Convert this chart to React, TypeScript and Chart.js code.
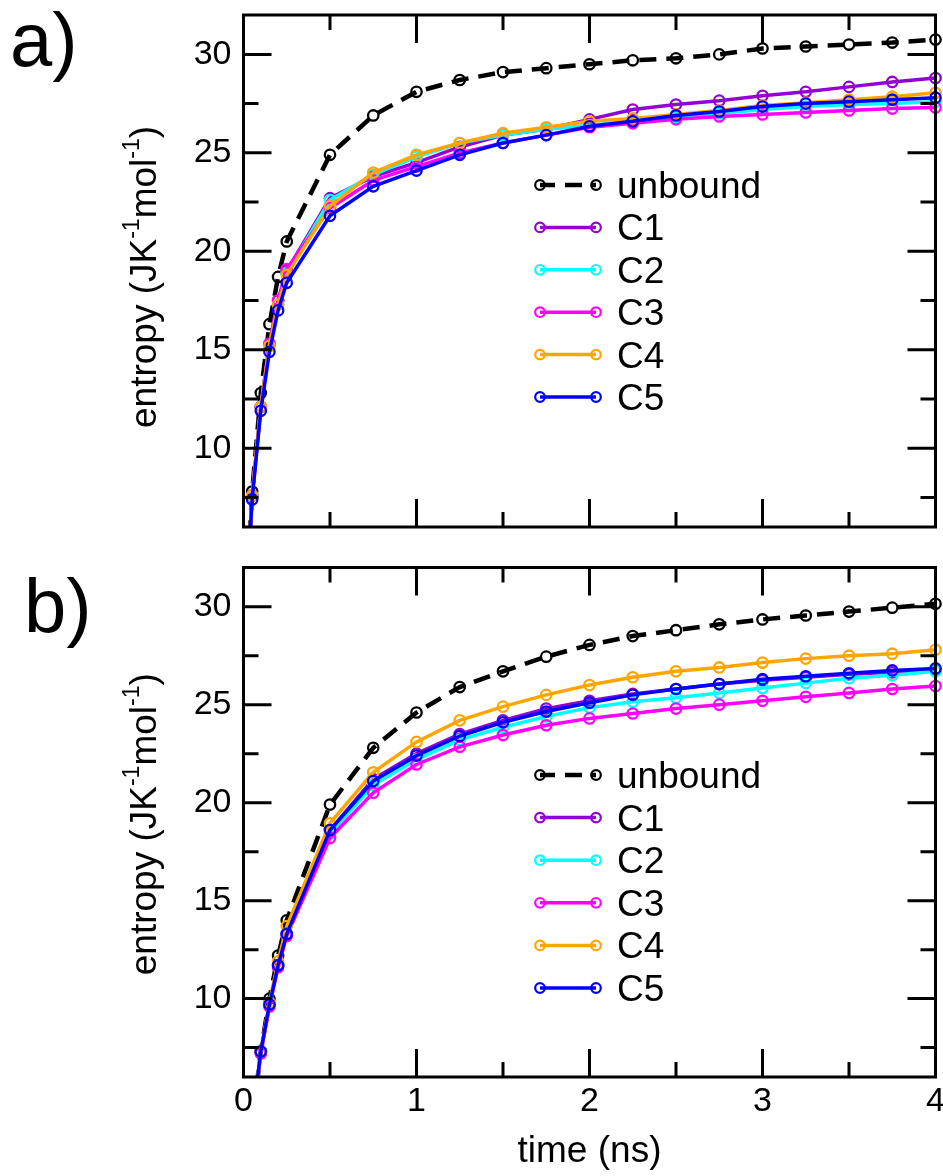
import React, { useEffect, useRef } from "react";
import { Chart, registerables } from "chart.js";

Chart.register(...registerables);

const FONT = "'Liberation Sans', Arial, Helvetica, sans-serif";

// ---- data (panel a) ----
const TIMES_A = [0, 0.05, 0.1, 0.15, 0.2, 0.25, 0.5, 0.75, 1, 1.25, 1.5, 1.75, 2, 2.25, 2.5, 2.75, 3, 3.25, 3.5, 3.75, 4];
const UNBOUND_A = [0, 7.8, 12.8, 16.3, 18.7, 20.5, 24.9, 26.9, 28.1, 28.7, 29.1, 29.3, 29.5, 29.7, 29.8, 30.0, 30.3, 30.4, 30.5, 30.6, 30.75];
const C1_A = [0, 7.6, 12.1, 15.3, 17.5, 19.0, 22.7, 23.8, 24.5, 25.3, 25.9, 26.2, 26.7, 27.2, 27.45, 27.65, 27.9, 28.1, 28.35, 28.6, 28.8];
const C2_A = [0, 7.6, 12.1, 15.2, 17.3, 18.9, 22.6, 23.9, 24.8, 25.5, 25.9, 26.2, 26.4, 26.6, 26.8, 27.0, 27.2, 27.35, 27.45, 27.5, 27.6];
const C3_A = [0, 7.6, 12.1, 15.3, 17.5, 19.1, 22.2, 23.6, 24.3, 25.0, 25.5, 25.9, 26.3, 26.5, 26.7, 26.85, 26.95, 27.05, 27.15, 27.25, 27.3];
const C4_A = [0, 7.6, 12.1, 15.2, 17.3, 18.8, 22.3, 24.0, 24.9, 25.5, 26.0, 26.3, 26.6, 26.75, 26.95, 27.15, 27.4, 27.55, 27.7, 27.85, 28.05];
const C5_A = [0, 7.4, 11.9, 14.9, 17.0, 18.4, 21.8, 23.3, 24.1, 24.9, 25.5, 25.9, 26.35, 26.6, 26.9, 27.1, 27.35, 27.5, 27.6, 27.7, 27.8];

// ---- data (panel b) ----
const TIMES_B = [0, 0.1, 0.15, 0.2, 0.25, 0.5, 0.75, 1, 1.25, 1.5, 1.75, 2, 2.25, 2.5, 2.75, 3, 3.25, 3.5, 3.75, 4];
const UNBOUND_B = [0, 7.3, 10.0, 12.2, 14.0, 19.9, 22.8, 24.6, 25.9, 26.7, 27.45, 28.05, 28.5, 28.8, 29.1, 29.35, 29.55, 29.75, 29.95, 30.15];
const C1_B = [0, 7.3, 9.7, 11.7, 13.3, 18.6, 21.2, 22.5, 23.5, 24.2, 24.8, 25.2, 25.55, 25.8, 26.05, 26.25, 26.4, 26.55, 26.65, 26.75];
const C2_B = [0, 7.3, 9.7, 11.7, 13.3, 18.4, 20.9, 22.2, 23.2, 23.85, 24.4, 24.85, 25.15, 25.35, 25.6, 25.85, 26.1, 26.35, 26.5, 26.7];
const C3_B = [0, 7.2, 9.6, 11.6, 13.2, 18.2, 20.5, 21.95, 22.85, 23.45, 23.95, 24.3, 24.55, 24.8, 25.0, 25.2, 25.4, 25.6, 25.8, 25.95];
const C4_B = [0, 7.3, 9.8, 11.9, 13.7, 18.95, 21.55, 23.1, 24.2, 24.9, 25.5, 26.0, 26.4, 26.7, 26.9, 27.15, 27.35, 27.5, 27.6, 27.8];
const C5_B = [0, 7.3, 9.7, 11.7, 13.3, 18.6, 21.1, 22.4, 23.4, 24.1, 24.65, 25.1, 25.5, 25.8, 26.05, 26.3, 26.45, 26.6, 26.75, 26.85];

const SERIES_NAMES = ["unbound", "C1", "C2", "C3", "C4", "C5"];
const SERIES_COLORS = ["#000000", "#9400d3", "#00ffff", "#ff00ff", "#ffa500", "#0000ff"];
const X_TICKS = [0, 1, 2, 3, 4];
const Y_TICKS = [10, 15, 20, 25, 30];
const X_RANGE = [0, 4];
const Y_RANGE = [6, 32];
const X_TITLE = "time (ns)";
const PANEL_LABELS = ["a)", "b)"];

const PANEL_A = { times: TIMES_A, series: [UNBOUND_A, C1_A, C2_A, C3_A, C4_A, C5_A] };
const PANEL_B = { times: TIMES_B, series: [UNBOUND_B, C1_B, C2_B, C3_B, C4_B, C5_B] };

function drawYTitle(ctx: CanvasRenderingContext2D, cx: number, cy: number, size: number) {
  const parts: [string, boolean][] = [["entropy (JK", false], ["-1", true], ["mol", false], ["-1", true], [")", false]];
  const big = `${size}px ${FONT}`;
  const small = `${Math.round(size * 0.62)}px ${FONT}`;
  ctx.save();
  ctx.translate(cx, cy);
  ctx.rotate(-Math.PI / 2);
  ctx.fillStyle = "#000";
  ctx.textBaseline = "alphabetic";
  ctx.textAlign = "left";
  let total = 0;
  const widths = parts.map(([t, sup]) => {
    ctx.font = sup ? small : big;
    const w = ctx.measureText(t).width;
    total += w;
    return w;
  });
  let x = -total / 2;
  parts.forEach(([t, sup], i) => {
    ctx.font = sup ? small : big;
    ctx.fillText(t, x, sup ? -size * 0.45 : 0);
    x += widths[i];
  });
  ctx.restore();
}

const decorPlugin = {
  id: "decor",
  afterDatasetsDraw(chart: any, _args: any, opts: any) {
    const ctx: CanvasRenderingContext2D = chart.ctx;
    const { left, right, top, bottom } = chart.chartArea;
    const xs = chart.scales.x;
    const ys = chart.scales.y;
    ctx.save();
    ctx.strokeStyle = "#000";
    ctx.lineWidth = 3;
    ctx.setLineDash([]);
    ctx.lineCap = "butt";
    ctx.strokeRect(left, top, right - left, bottom - top);
    const xStep = X_TICKS[1] - X_TICKS[0];
    for (let v = X_RANGE[0]; v <= X_RANGE[1] + 1e-9; v += xStep / 2) {
      const major = X_TICKS.some((t) => Math.abs(t - v) < 1e-9);
      const len = major ? 28 : 15;
      const px = xs.getPixelForValue(v);
      ctx.beginPath();
      ctx.moveTo(px, bottom);
      ctx.lineTo(px, bottom - len);
      ctx.moveTo(px, top);
      ctx.lineTo(px, top + len);
      ctx.stroke();
    }
    const yStep = Y_TICKS[1] - Y_TICKS[0];
    for (let v = Y_TICKS[0] - yStep; v <= Y_RANGE[1] + 1e-9; v += yStep / 2) {
      if (v < Y_RANGE[0]) continue;
      const major = Y_TICKS.some((t) => Math.abs(t - v) < 1e-9);
      const len = major ? 28 : 15;
      const py = ys.getPixelForValue(v);
      ctx.beginPath();
      ctx.moveTo(left, py);
      ctx.lineTo(left + len, py);
      ctx.moveTo(right, py);
      ctx.lineTo(right - len, py);
      ctx.stroke();
    }
    ctx.restore();

    // legend
    ctx.save();
    chart.data.datasets.forEach((ds: any, i: number) => {
      const y = opts.legendY + i * opts.legendStep;
      const x1 = opts.legendX;
      const x2 = opts.legendX + 56;
      ctx.strokeStyle = ds.borderColor;
      ctx.lineWidth = ds.borderWidth;
      ctx.setLineDash(ds.borderDash || []);
      ctx.lineDashOffset = ds.borderDash ? 2 : 0;
      ctx.beginPath();
      ctx.moveTo(x1, y);
      ctx.lineTo(x2, y);
      ctx.stroke();
      ctx.setLineDash([]);
      ctx.lineWidth = 2.2;
      [x1, x2].forEach((cx) => {
        ctx.beginPath();
        ctx.arc(cx, y, 4.8, 0, Math.PI * 2);
        ctx.stroke();
      });
      ctx.fillStyle = "#000";
      ctx.font = `37px ${FONT}`;
      ctx.textAlign = "left";
      ctx.textBaseline = "alphabetic";
      ctx.fillText(ds.label, opts.legendX + 77, y + 13);
    });
    ctx.restore();

    ctx.save();
    ctx.fillStyle = "#000";
    ctx.font = `76px ${FONT}`;
    ctx.textAlign = "left";
    ctx.textBaseline = "alphabetic";
    ctx.fillText(opts.panelLabel, opts.panelX, opts.panelY);
    ctx.restore();
    drawYTitle(ctx, 156, (top + bottom) / 2 + opts.yTitleShift, 37);
    if (opts.xTitle) {
      ctx.save();
      ctx.fillStyle = "#000";
      ctx.font = `37px ${FONT}`;
      ctx.textAlign = "center";
      ctx.textBaseline = "alphabetic";
      ctx.fillText(opts.xTitle, (left + right) / 2, opts.xTitleY);
      ctx.restore();
    }
  },
};

function makeConfig(panel: any, o: any) {
  const datasets = SERIES_NAMES.map((name, i) => ({
    label: name,
    data: panel.times.map((t: number, k: number) => ({ x: t, y: panel.series[i][k] })),
    borderColor: SERIES_COLORS[i],
    backgroundColor: "rgba(0,0,0,0)",
    borderWidth: i === 0 ? 4.5 : 3.5,
    borderDash: i === 0 ? [17, 10] : undefined,
    pointRadius: 5.2,
    pointBorderWidth: 2.3,
    pointBorderColor: SERIES_COLORS[i],
    pointBackgroundColor: "rgba(0,0,0,0)",
    pointHoverRadius: 5.2,
    tension: 0,
    fill: false,
    order: SERIES_NAMES.length - 1 - i,
    clip: { left: 0, right: 8, top: 8, bottom: 0 },
  }));
  return {
    type: "line",
    data: { datasets },
    options: {
      animation: false,
      responsive: false,
      devicePixelRatio: 1,
      events: [],
      layout: { padding: { left: 0, right: 7.5, top: o.padTop, bottom: 0 } },
      plugins: {
        legend: { display: false },
        tooltip: { enabled: false },
        decor: o.decor,
      },
      scales: {
        x: {
          type: "linear",
          min: X_RANGE[0],
          max: X_RANGE[1],
          grid: { display: false, drawTicks: false },
          border: { display: false },
          afterBuildTicks: (s: any) => {
            s.ticks = X_TICKS.map((v) => ({ value: v }));
          },
          ticks: {
            display: o.showX,
            color: "#000",
            font: { family: FONT, size: 34 },
            padding: 4,
            maxRotation: 0,
            autoSkip: false,
          },
          afterFit: (s: any) => {
            s.height = o.xHeight;
            s.paddingLeft = 0;
            s.paddingRight = 0;
          },
        },
        y: {
          type: "linear",
          min: Y_RANGE[0],
          max: Y_RANGE[1],
          grid: { display: false, drawTicks: false },
          border: { display: false },
          afterBuildTicks: (s: any) => {
            s.ticks = Y_TICKS.map((v) => ({ value: v }));
          },
          ticks: {
            color: "#000",
            font: { family: FONT, size: 34 },
            padding: 12,
          },
          afterFit: (s: any) => {
            s.width = 243.5;
            s.paddingTop = 0;
            s.paddingBottom = 0;
          },
        },
      },
    },
    plugins: [decorPlugin],
  };
}

function Panel({ panel, width, height, top, o }: any) {
  const ref = useRef<HTMLCanvasElement | null>(null);
  useEffect(() => {
    if (!ref.current) return;
    const chart = new Chart(ref.current, makeConfig(panel, o) as any);
    return () => chart.destroy();
  }, []);
  return (
    <canvas
      ref={ref}
      width={width}
      height={height}
      style={{ position: "absolute", left: 0, top, width, height, display: "block" }}
    />
  );
}

export default function App() {
  return (
    <div style={{ position: "absolute", left: 0, top: 0, width: 943, height: 1176, background: "#fff", overflow: "hidden" }}>
      <Panel
        panel={PANEL_A}
        width={943}
        height={560}
        top={0}
        o={{
          padTop: 15,
          xHeight: 33,
          showX: false,
          decor: { legendX: 540, legendY: 185, legendStep: 42.4, panelLabel: PANEL_LABELS[0], panelX: 10, panelY: 66, yTitleShift: 6, xTitle: null },
        }}
      />
      <Panel
        panel={PANEL_B}
        width={943}
        height={616}
        top={560}
        o={{
          padTop: 7,
          xHeight: 99,
          showX: true,
          decor: { legendX: 540, legendY: 215, legendStep: 42.6, panelLabel: PANEL_LABELS[1], panelX: 24, panelY: 72, yTitleShift: 2, xTitle: X_TITLE, xTitleY: 602 },
        }}
      />
    </div>
  );
}
